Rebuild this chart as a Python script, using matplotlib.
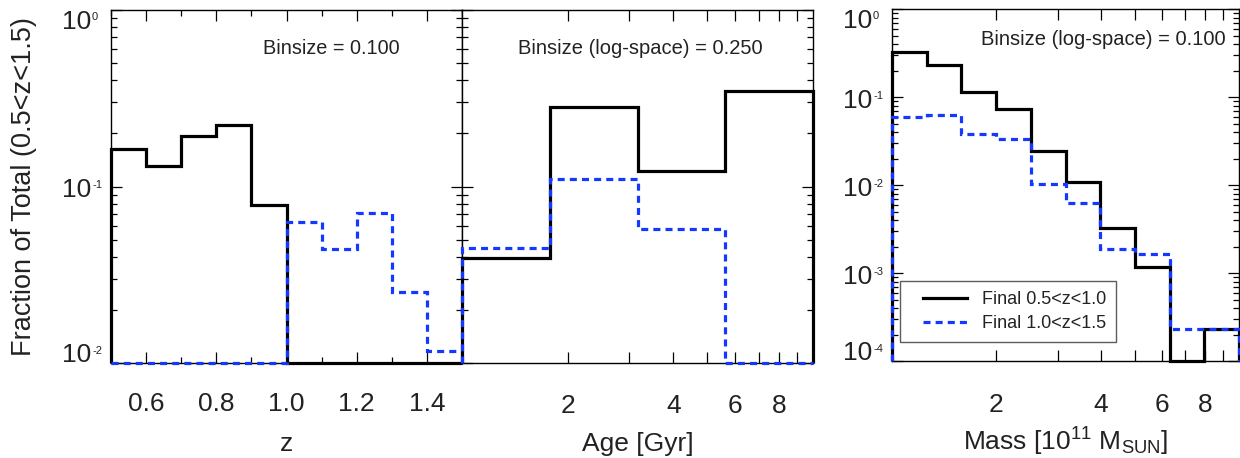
import numpy as np
import matplotlib
matplotlib.use("Agg")
import matplotlib.pyplot as plt
from matplotlib.ticker import FixedLocator, NullFormatter, LogLocator, FixedFormatter
from matplotlib.lines import Line2D
from matplotlib.legend_handler import HandlerBase

plt.rcParams['font.family'] = ['Liberation Sans', 'DejaVu Sans']
plt.rcParams['mathtext.fontset'] = 'custom'
plt.rcParams['mathtext.rm'] = 'Liberation Sans'
plt.rcParams['mathtext.it'] = 'Liberation Sans'
plt.rcParams['mathtext.default'] = 'regular'

# ---------------- data ----------------
z_edges = [0.5, 0.6, 0.7, 0.8, 0.9, 1.0, 1.1, 1.2, 1.3, 1.4, 1.5]
z_low = [0.164, 0.131, 0.193, 0.223, 0.0786, 0.01, 0.01, 0.01, 0.01, 0.01]
z_high = [0.01, 0.01, 0.01, 0.01, 0.01, 0.0632, 0.0441, 0.0711, 0.0251, 0.0117]

age_log_edges = [0.0, 0.25, 0.5, 0.75, 1.0]
age_low = [0.0392, 0.281, 0.1225, 0.349]
age_high = [0.0447, 0.1107, 0.0577, 0.01]

mass_log_edges = [0.0, 0.1, 0.2, 0.3, 0.4, 0.5, 0.6, 0.7, 0.8, 0.9, 1.0]
mass_low = [0.325, 0.233, 0.115, 0.0736, 0.0243, 0.0109, 0.00324, 0.00117, 1e-4, 2.3e-4]
mass_high = [0.0593, 0.0624, 0.038, 0.0339, 0.01035, 0.0063, 0.001875, 0.001627, 2.3e-4, 2.3e-4]

labels = ['Final 0.5<z<1.0', 'Final 1.0<z<1.5']
z_ticks = [0.6, 0.8, 1.0, 1.2, 1.4]
z_ticklabels = ['0.6', '0.8', '1.0', '1.2', '1.4']
age_ticks = [2, 4, 6, 8]
mass_ticks = [2, 4, 6, 8]
y1_exps = [0, -1, -2]
y3_exps = [0, -1, -2, -3, -4]

BLUE = '#1438ff'
TXT = '#222222'
LW = 2.3
DASH = (0, (2.2, 1.6))

fig = plt.figure(figsize=(12.4, 4.58), dpi=100)
W, H = 1240.0, 458.0

def axbox(x0, x1, ytop, ybot):
    return [x0 / W, 1 - ybot / H, (x1 - x0) / W, (ybot - ytop) / H]

ax1 = fig.add_axes(axbox(111, 462, 10, 363))
ax2 = fig.add_axes(axbox(462, 813, 10, 363))
ax3 = fig.add_axes(axbox(892, 1239, 9.3, 361))

def style(ax):
    for s in ax.spines.values():
        s.set_linewidth(1.0)
        s.set_color('black')
    ax.tick_params(which='both', direction='in', top=True, right=True,
                   width=0.9, colors='black', labelcolor=TXT, labelsize=19)
    ax.tick_params(which='major', length=8)
    ax.tick_params(which='minor', length=4)

def draw(ax, vals, edges, ymin, color, ls):
    kw = dict(color=color, lw=LW, baseline=ymin, clip_on=False, zorder=3)
    return ax.stairs(vals, edges, linestyle=ls, **kw)

def ylog_labels(ax, exps):
    n = len(exps)
    for i, e in enumerate(exps):
        if i == 0:
            dy = -12
        elif i == n - 1:
            dy = 7.5
        else:
            dy = -3.5
        v = 10.0 ** e
        ax.annotate('10', xy=(0, v), xycoords=('axes fraction', 'data'),
                    xytext=(-20, dy), textcoords='offset pixels',
                    ha='right', va='center', fontsize=19, color=TXT,
                    annotation_clip=False)
        ax.annotate(str(e), xy=(0, v), xycoords=('axes fraction', 'data'),
                    xytext=(-19, dy + 10), textcoords='offset pixels',
                    ha='left', va='top', fontsize=8, color=TXT,
                    annotation_clip=False)

# -------- panel 1 --------
ax1.set_yscale('log')
ax1.set_xlim(0.5, 1.5)
ax1.set_ylim(0.01, 1.0)
draw(ax1, z_low, z_edges, 0.01, 'black', '-')
draw(ax1, z_high, z_edges, 0.01, BLUE, DASH)
ax1.xaxis.set_major_locator(FixedLocator(z_ticks))
ax1.xaxis.set_major_formatter(FixedFormatter(z_ticklabels))
ax1.xaxis.set_minor_locator(FixedLocator([0.5, 0.7, 0.9, 1.1, 1.3, 1.5]))
ax1.yaxis.set_major_locator(FixedLocator([10.0 ** e for e in y1_exps]))
ax1.yaxis.set_major_formatter(NullFormatter())
ax1.yaxis.set_minor_locator(LogLocator(base=10, subs=np.arange(2, 10)))
ax1.yaxis.set_minor_formatter(NullFormatter())
style(ax1)
ax1.tick_params(axis='x', which='both', pad=21)
ylog_labels(ax1, y1_exps)
ax1.set_xlabel('z', fontsize=19, color=TXT)
ax1.xaxis.set_label_coords(0.5, -0.196)
ax1.set_ylabel('Fraction of Total (0.5<z<1.5)', fontsize=19.5, color=TXT)
ax1.yaxis.set_label_coords(-0.211, 0.5)
ax1.text(0.627, 0.892, 'Binsize = 0.100', transform=ax1.transAxes, fontsize=14.3,
         color=TXT, ha='center', va='center')

# -------- panel 2 --------
ax2.set_xscale('log')
ax2.set_yscale('log')
ax2.set_xlim(1.0, 10.0)
ax2.set_ylim(0.01, 1.0)
age_edges = [10 ** e for e in age_log_edges]
draw(ax2, age_low, age_edges, 0.01, 'black', '-')
draw(ax2, age_high, age_edges, 0.01, BLUE, DASH)
ax2.xaxis.set_major_locator(FixedLocator(age_ticks))
ax2.xaxis.set_major_formatter(FixedFormatter([str(t) for t in age_ticks]))
ax2.xaxis.set_minor_locator(FixedLocator([3, 5, 7, 9]))
ax2.xaxis.set_minor_formatter(NullFormatter())
ax2.yaxis.set_major_locator(FixedLocator([0.01, 0.1, 1.0]))
ax2.yaxis.set_minor_locator(LogLocator(base=10, subs=np.arange(2, 10)))
ax2.yaxis.set_major_formatter(NullFormatter())
ax2.yaxis.set_minor_formatter(NullFormatter())
style(ax2)
ax2.tick_params(axis='x', which='minor', length=8)
ax2.tick_params(axis='x', which='both', pad=22)
ax2.set_xlabel('Age [Gyr]', fontsize=19, color=TXT)
ax2.xaxis.set_label_coords(0.5, -0.196)
ax2.text(0.508, 0.891, 'Binsize (log-space) = 0.250', transform=ax2.transAxes,
         fontsize=14.5, color=TXT, ha='center', va='center')

# -------- panel 3 --------
ax3.set_xscale('log')
ax3.set_yscale('log')
ax3.set_xlim(1.0, 10.0)
ax3.set_ylim(1e-4, 1.0)
mass_edges = [10 ** e for e in mass_log_edges]
draw(ax3, mass_low, mass_edges, 1e-4, 'black', '-')
draw(ax3, mass_high, mass_edges, 1e-4, BLUE, DASH)
ax3.xaxis.set_major_locator(FixedLocator(mass_ticks))
ax3.xaxis.set_major_formatter(FixedFormatter([str(t) for t in mass_ticks]))
ax3.xaxis.set_minor_locator(FixedLocator([3, 5, 7, 9]))
ax3.xaxis.set_minor_formatter(NullFormatter())
ax3.yaxis.set_major_locator(FixedLocator([10.0 ** e for e in y3_exps]))
ax3.yaxis.set_major_formatter(NullFormatter())
ax3.yaxis.set_minor_locator(LogLocator(base=10, subs=np.arange(2, 10)))
ax3.yaxis.set_minor_formatter(NullFormatter())
style(ax3)
ax3.tick_params(axis='x', which='minor', length=8)
ax3.tick_params(axis='x', which='both', pad=23)
ylog_labels(ax3, y3_exps)
ax3.set_xlabel(r'Mass [10$^{11}$ M$_{SUN}$]', fontsize=19, color=TXT)
ax3.xaxis.set_label_coords(0.5, -0.185)
ax3.text(0.608, 0.913, 'Binsize (log-space) = 0.100', transform=ax3.transAxes,
         fontsize=14.5, color=TXT, ha='center', va='center')


class OffsetLineHandler(HandlerBase):
    def create_artists(self, legend, orig_handle, xdescent, ydescent,
                       width, height, fontsize, trans):
        y = height / 2.0 - ydescent
        line = Line2D([width * 0.23 - xdescent, width - xdescent], [y, y])
        line.update_from(orig_handle)
        line.set_transform(trans)
        return [line]


h1 = Line2D([], [], color='black', lw=LW, linestyle='-')
h2 = Line2D([], [], color=BLUE, lw=LW, linestyle=DASH)
leg = ax3.legend([h1, h2], labels, loc='lower left', bbox_to_anchor=(0.023, 0.054),
                 fontsize=13, frameon=True, fancybox=False, handlelength=3.17,
                 handletextpad=0.83, borderpad=0.55, labelspacing=0.4,
                 borderaxespad=0,
                 handler_map={Line2D: OffsetLineHandler()})
leg.get_frame().set_edgecolor('#333333')
leg.get_frame().set_linewidth(1.0)
for t in leg.get_texts():
    t.set_color(TXT)

fig.savefig('out.png', dpi=100)
